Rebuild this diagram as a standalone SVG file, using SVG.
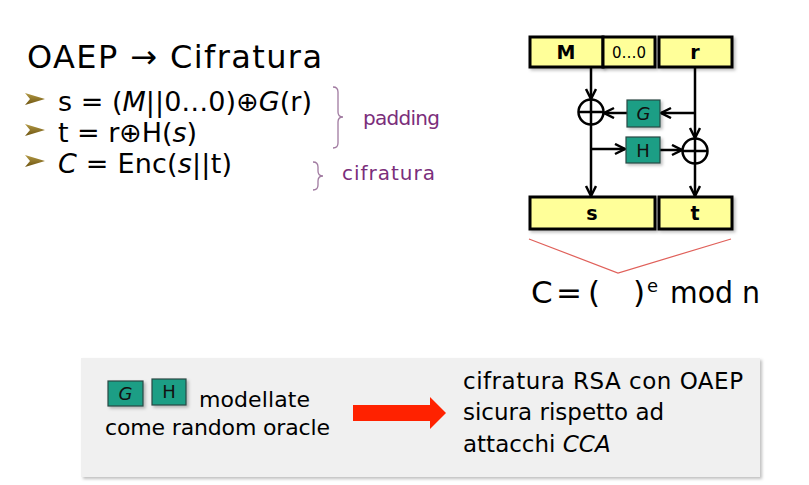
<svg xmlns="http://www.w3.org/2000/svg" width="809" height="485" viewBox="0 0 809 485">
<style>
text{font-family:"DejaVu Sans","Liberation Sans",sans-serif;fill:#000}
.box{fill:#ffff99;stroke:#000;stroke-width:3}
.fn{fill:#1a9e85;stroke:#2b4a44;stroke-width:1.2}
.lbl{font-size:19px;font-weight:bold;text-anchor:middle}
.fl{font-size:18px;text-anchor:middle;fill:#111}
.wire{stroke:#000;stroke-width:2.5;fill:none}
.arr{marker-end:url(#ah)}
.xor{fill:#fff;stroke:#000;stroke-width:2.5}
.pur{fill:#7b2e7b;font-size:20px}
.brace{fill:none;stroke:#a07aa0;stroke-width:1.3}
.big{font-size:31px}
</style>
<defs>
<marker id="ah" markerUnits="userSpaceOnUse" markerWidth="14" markerHeight="14" refX="11" refY="6" orient="auto">
<path d="M1,1 L11,6 L1,11" fill="none" stroke="#000" stroke-width="2.5"/>
</marker>
<filter id="sh" x="-10%" y="-10%" width="130%" height="140%">
<feDropShadow dx="2" dy="2" stdDeviation="1.5" flood-color="#000" flood-opacity="0.25"/>
</filter>
<linearGradient id="bg" x1="0" y1="0" x2="0" y2="1">
<stop offset="0" stop-color="#b39a45"/><stop offset="1" stop-color="#6e5410"/>
</linearGradient>
</defs>
<rect width="809" height="485" fill="#fff"/>

<!-- left text -->
<g id="title"><text x="27" y="68" font-size="32" textLength="295">OAEP → Cifratura</text></g>
<g id="bullets">
<polygon points="25,93 45,99 25,105 30,99" fill="url(#bg)"/>
<polygon points="25,124 45,130 25,136 30,130" fill="url(#bg)"/>
<polygon points="25,155 45,161 25,167 30,161" fill="url(#bg)"/>
<text x="58" y="111" font-size="27" textLength="254">s = (<tspan font-style="italic">M</tspan>||0…0)⊕<tspan font-style="italic">G</tspan>(r)</text>
<text x="58" y="142" font-size="27" textLength="139">t = r⊕H(<tspan font-style="italic">s</tspan>)</text>
<text x="58" y="173" font-size="27" textLength="174"><tspan font-style="italic">C</tspan> = Enc(<tspan font-style="italic">s</tspan>||t)</text>
</g>
<g id="padding">
<path class="brace" d="M333,87 Q338,87 338,92 L338,112 Q338,117 343,117 Q338,117 338,122 L338,143 Q338,148 333,148"/>
<text class="pur" x="363" y="125" textLength="77">padding</text>
</g>
<g id="cifratura">
<path class="brace" d="M313,162 Q318,162 318,167 L318,171 Q318,176 323,176 Q318,176 318,181 L318,185 Q318,190 313,190"/>
<text class="pur" x="342" y="180" textLength="93">cifratura</text>
</g>

<!-- right diagram -->
<g id="connectors">
<line class="wire arr" x1="591" y1="68" x2="591" y2="99"/>
<line class="wire arr" x1="695" y1="68" x2="695" y2="138"/>
<line class="wire arr" x1="695" y1="113" x2="661" y2="113"/>
<line class="wire arr" x1="627" y1="113" x2="604" y2="113"/>
<line class="wire arr" x1="591" y1="125" x2="591" y2="196"/>
<line class="wire arr" x1="591" y1="149" x2="625" y2="149"/>
<line class="wire arr" x1="660" y1="150" x2="682" y2="150"/>
<line class="wire arr" x1="695" y1="164" x2="695" y2="196"/>
</g>
<g id="M"><rect class="box" x="530" y="37" width="73" height="30" filter="url(#sh)"/><text class="lbl" x="566" y="59">M</text></g>
<g id="zeros"><rect class="box" x="603" y="37" width="52" height="30" filter="url(#sh)"/><text x="629" y="58" font-size="15" text-anchor="middle">0…0</text></g>
<g id="r"><rect class="box" x="659" y="37" width="73" height="30" filter="url(#sh)"/><text class="lbl" x="695" y="59">r</text></g>
<g id="xor1"><circle class="xor" cx="591" cy="112" r="12.5"/><path class="wire" d="M578.5,112 H603.5 M591,99.5 V124.5"/></g>
<g id="xor2"><circle class="xor" cx="695" cy="151" r="12.5"/><path class="wire" d="M682.5,151 H707.5 M695,138.5 V163.5"/></g>
<g id="G"><rect class="fn" x="627" y="100" width="33" height="27" filter="url(#sh)"/><text class="fl" x="643.5" y="120" font-style="italic">G</text></g>
<g id="H"><rect class="fn" x="626" y="137" width="34" height="26" filter="url(#sh)"/><text class="fl" x="643" y="157">H</text></g>
<g id="s"><rect class="box" x="530" y="197" width="125" height="32" filter="url(#sh)"/><text class="lbl" x="592" y="220">s</text></g>
<g id="t"><rect class="box" x="659" y="197" width="73" height="32" filter="url(#sh)"/><text class="lbl" x="695" y="220">t</text></g>
<g id="formula">
<polyline points="529,239 618,273 731,239" fill="none" stroke="#e0605a" stroke-width="1.2"/>
<text class="big" x="531" y="303">C</text>
<text class="big" x="556" y="303">=</text>
<text class="big" x="588" y="303">(</text>
<text class="big" x="633" y="303">)</text>
<text x="647" y="292" font-size="18">e</text>
<text class="big" x="670" y="303" textLength="90" lengthAdjust="spacingAndGlyphs">mod n</text>
</g>

<!-- bottom box -->
<g id="note">
<rect x="81" y="358" width="679" height="119" fill="#f0f0f0" filter="url(#sh)"/>
<g id="G2"><rect class="fn" x="108" y="381" width="35" height="25" filter="url(#sh)"/><text class="fl" x="125.5" y="400" font-style="italic">G</text></g>
<g id="H2"><rect class="fn" x="152" y="379" width="34" height="26" filter="url(#sh)"/><text class="fl" x="169" y="398">H</text></g>
<text x="199" y="407" font-size="22" textLength="111">modellate</text>
<text x="105" y="435" font-size="22" textLength="225">come random oracle</text>
<polygon points="353,405 430,405 430,397 446,413 430,429 430,421 353,421" fill="#ff2200"/>
<text x="463" y="389" font-size="23" textLength="280">cifratura RSA con OAEP</text>
<text x="463" y="420" font-size="23">sicura rispetto ad</text>
<text x="463" y="452" font-size="23">attacchi <tspan font-style="italic">CCA</tspan></text>
</g>
</svg>
